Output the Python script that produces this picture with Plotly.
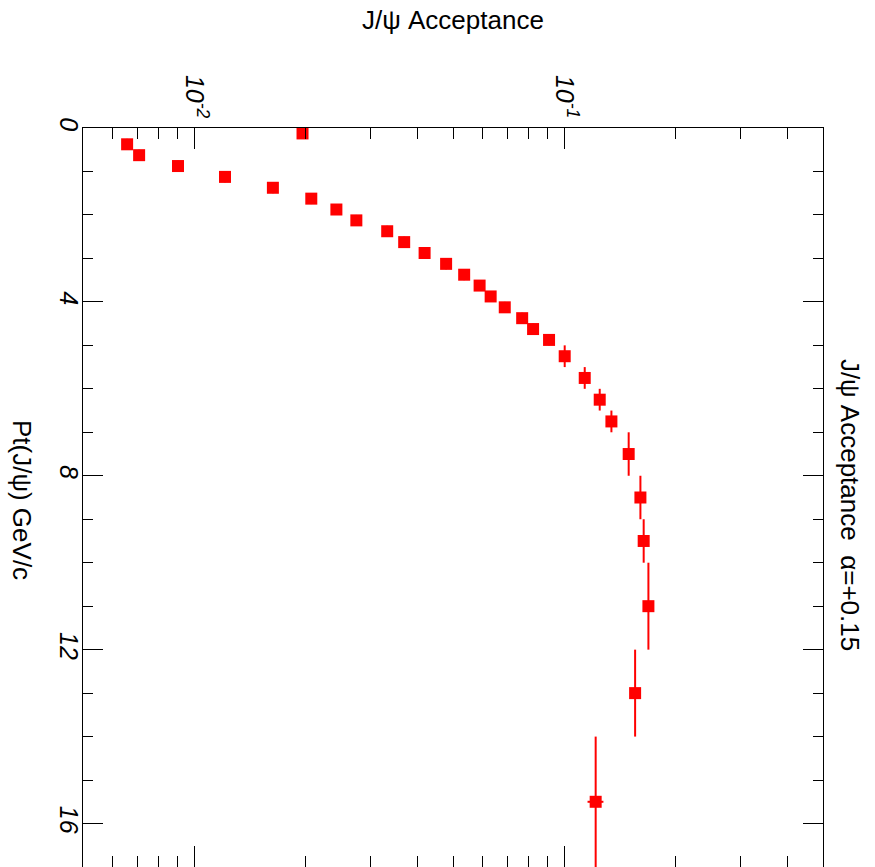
import plotly.graph_objects as go

# Pt bin centres (GeV/c) and half bin widths
pt = [0.125, 0.375, 0.625, 0.875, 1.125, 1.375, 1.625, 1.875, 2.125, 2.375,
      2.625, 2.875, 3.125, 3.375, 3.625, 3.875, 4.125, 4.375, 4.625, 4.875,
      5.25, 5.75, 6.25, 6.75, 7.5, 8.5, 9.5, 11.0, 13.0, 15.5]
pt_half = [0.125] * 20 + [0.25, 0.25, 0.25, 0.25, 0.5, 0.5, 0.5, 1.0, 1.0, 1.5]

# J/psi acceptance per bin and its uncertainty
acc = [0.0196, 0.00658, 0.00709, 0.00903, 0.0121, 0.0163, 0.0207, 0.0242, 0.0274, 0.0332,
       0.0369, 0.0419, 0.0479, 0.0536, 0.0590, 0.0632, 0.0690, 0.0769, 0.0823, 0.0909,
       0.1002, 0.1135, 0.1246, 0.1340, 0.1492, 0.1605, 0.1638, 0.1687, 0.1553, 0.1215]
acc_err = [0.0004, 0.0001, 0.0001, 0.0002, 0.0002, 0.0003, 0.0003, 0.0004, 0.0004, 0.0005,
           0.0005, 0.0006, 0.0007, 0.0008, 0.0009, 0.0010, 0.0011, 0.0012, 0.0013, 0.0014,
           0.0016, 0.0018, 0.0020, 0.0022, 0.0024, 0.0026, 0.0028, 0.0030, 0.0040, 0.0060]

major_acc_ticks = [0.01, 0.1]
major_acc_text = ["10<sup>-2</sup>", "10<sup>-1</sup>"]
minor_acc_ticks = [m * 10.0 ** e for e in (-3, -2, -1) for m in range(2, 10)
                   if 0.005 < m * 10.0 ** e < 0.5]

FONT = "Liberation Sans, Arial, Helvetica, sans-serif"
RED = "#ff0000"

fig = go.Figure()
fig.add_trace(go.Scatter(
    x=acc, y=pt,
    mode="markers",
    marker=dict(symbol="square", size=12, color=RED, line=dict(width=0)),
    error_y=dict(type="data", array=pt_half, color=RED, thickness=2, width=0),
    error_x=dict(type="data", array=acc_err, color=RED, thickness=2, width=0),
    showlegend=False,
))

fig.update_layout(
    width=875, height=867,
    margin=dict(l=83, r=52, t=128, b=0),
    paper_bgcolor="white", plot_bgcolor="white",
    font=dict(family=FONT, color="black"),
    xaxis=dict(
        type="log", side="top",
        range=[-2.30103, -0.30103],
        tickmode="array", tickvals=major_acc_ticks, ticktext=major_acc_text,
        tickangle=90,
        tickfont=dict(family=FONT, size=25, style="italic", color="black"),
        ticks="inside", ticklen=21, tickwidth=1, tickcolor="black",
        minor=dict(tickmode="array", tickvals=minor_acc_ticks, ticks="inside",
                   ticklen=11, tickwidth=1, tickcolor="black", showgrid=False),
        showline=True, linecolor="black", linewidth=1, mirror="ticks",
        showgrid=False, zeroline=False,
    ),
    yaxis=dict(
        range=[17, 0],
        tickmode="linear", tick0=0, dtick=4,
        tickangle=90,
        tickfont=dict(family=FONT, size=25, style="italic", color="black"),
        ticklabelstandoff=-8,
        ticks="inside", ticklen=20, tickwidth=1, tickcolor="black",
        minor=dict(dtick=1, ticks="inside", ticklen=10, tickwidth=1,
                   tickcolor="black", showgrid=False),
        showline=True, linecolor="black", linewidth=1, mirror="ticks",
        showgrid=False, zeroline=False,
    ),
    annotations=[
        dict(text="J/ψ Acceptance", xref="paper", yref="paper",
             x=0.5, y=1.146, xanchor="center", yanchor="middle",
             showarrow=False, font=dict(family=FONT, size=26, color="black")),
        dict(text="Pt(J/ψ) GeV/c", xref="paper", yref="paper",
             x=-0.0824, y=0.4966, xanchor="center", yanchor="middle",
             textangle=90, showarrow=False,
             font=dict(family=FONT, size=26, color="black")),
        dict(text="J/ψ Acceptance  α=+0.15", xref="paper", yref="paper",
             x=1.0365, y=0.49, xanchor="center", yanchor="middle",
             textangle=90, showarrow=False,
             font=dict(family=FONT, size=26, color="black")),
    ],
)

fig.write_html("out.html")
